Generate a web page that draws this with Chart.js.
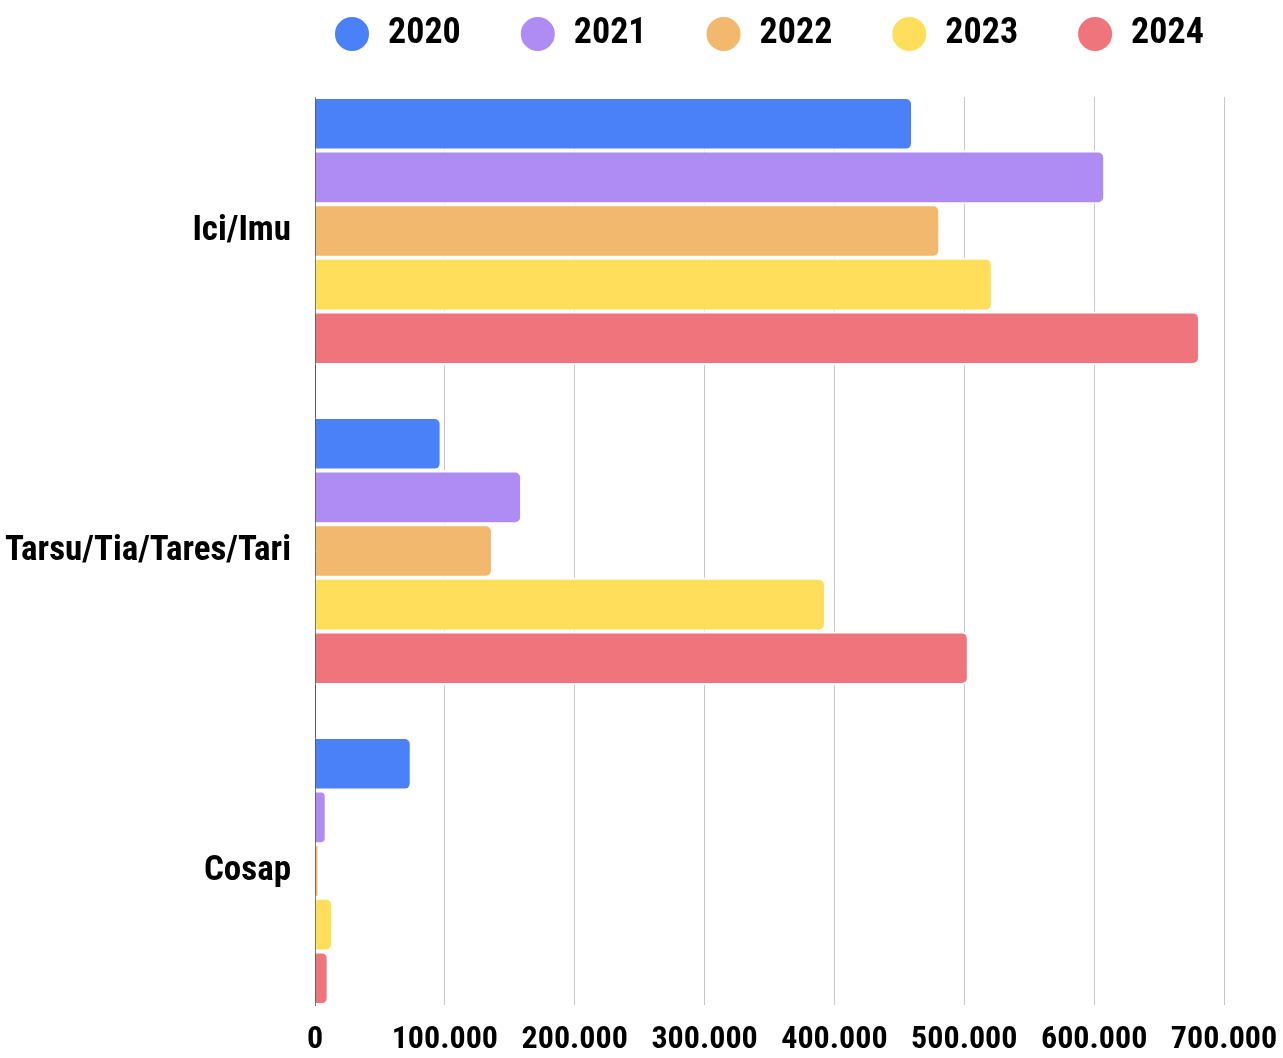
<!DOCTYPE html>
<html>
<head>
<meta charset="utf-8">
<script src="https://cdn.jsdelivr.net/npm/chart.js@4.4.1/dist/chart.umd.min.js"></script>
<style>
html, body { margin: 0; padding: 0; background: #fff; }
#wrap { width: 1283px; height: 1058px; }
</style>
</head>
<body>
<div id="wrap"><canvas id="tasse"></canvas></div>
<script>
var categorie = ["Ici/Imu", "Tarsu/Tia/Tares/Tari", "Cosap"]
var anni = ["2020", "2021", "2022", "2023", "2024"]

var valori2020 = [460500, 97500, 74500]
var valori2021 = [608500, 159500, 9000]
var valori2022 = [481500, 137000, 3500]
var valori2023 = [522000, 393500, 14000]
var valori2024 = [681500, 503500, 10500]

var colori = ['rgb(74, 128, 248)', 'rgb(174, 140, 244)', 'rgb(242, 184, 110)', 'rgb(254, 222, 90)', 'rgb(239, 116, 124)']

var FONT = "'Roboto Condensed', 'Open Sans Condensed', sans-serif"
var LEG_PAD = 59
var LEG_SIZE = 36
// the outer bars touch the plot edges: only ~0.42 of a band above the first and below the last category
var MARGINE = 0.41875

function Migliaia(v){
    return String(v).replace(/\B(?=(\d{3})+(?!\d))/g, '.')
}

function GetDatasets(){
    var serie = [valori2020, valori2021, valori2022, valori2023, valori2024]
    return serie.map(function(valori, i){
        return {
            label: anni[i],
            data: valori.map(function(v, k){ return { x: v, y: k } }),
            backgroundColor: colori[i],
            borderColor: '#ffffff',
            borderWidth: 2,
            borderRadius: 7,
            borderSkipped: 'start',
            categoryPercentage: 0.8375,
            barPercentage: 1
        }
    })
}

// legend: fixed height, first dot at x=334, row centred at y=34
const legendaPlugin = {
    id: 'legenda',
    beforeLayout(chart){
        var leg = chart.legend
        if(leg && !leg._patched){
            var fit = leg.fit
            leg.fit = function(){
                fit.call(this)
                this.height = 97
            }
            leg._patched = true
        }
    },
    afterLayout(chart){
        var leg = chart.legend
        leg.left = 2 * 334 - LEG_PAD - leg.right + leg.lineWidths[0]
        leg.top = 34 - LEG_PAD - LEG_SIZE / 2
    }
}

var ctx = document.getElementById("tasse")

var chart = new Chart(ctx, {
    type: "bar",
    data: {
        datasets: GetDatasets()
    },
    plugins: [legendaPlugin],
    options: {
        indexAxis: 'y',
        responsive: true,
        maintainAspectRatio: false,
        animation: false,
        layout: { padding: 0 },
        plugins: {
            legend: {
                position: 'top',
                labels: {
                    usePointStyle: true,
                    pointStyle: 'circle',
                    boxWidth: 36,
                    boxHeight: 25.5,
                    padding: LEG_PAD,
                    color: '#000',
                    font: { family: FONT, size: LEG_SIZE, weight: 'bold' }
                }
            },
            tooltip: { enabled: false }
        },
        scales: {
            x: {
                type: 'linear',
                min: 0,
                max: 700000,
                ticks: {
                    stepSize: 100000,
                    padding: 16,
                    maxRotation: 0,
                    minRotation: 0,
                    autoSkip: false,
                    color: '#000',
                    font: { family: FONT, size: 32, weight: 'bold' },
                    callback: function(v){ return Migliaia(v) }
                },
                grid: { color: '#c8c8c8', lineWidth: 1, drawTicks: false },
                border: { display: false },
                afterFit: function(scale){
                    scale.height = 53
                    scale.paddingLeft = 0
                    scale.paddingRight = 59
                }
            },
            y: {
                type: 'linear',
                offset: false,
                reverse: true,
                min: -MARGINE,
                max: categorie.length - 1 + MARGINE,
                afterBuildTicks: function(scale){
                    scale.ticks = categorie.map(function(c, i){ return { value: i } })
                },
                ticks: {
                    padding: 24,
                    color: '#000',
                    font: { family: FONT, size: 35, weight: 'bold' },
                    callback: function(v){ return categorie[v] }
                },
                grid: { display: false, drawTicks: false, offset: false },
                border: { display: true, color: '#555', width: 1 },
                afterFit: function(scale){
                    scale.width = 315
                    scale.paddingTop = 0
                    scale.paddingBottom = 0
                }
            }
        }
    }
})
</script>
</body>
</html>
